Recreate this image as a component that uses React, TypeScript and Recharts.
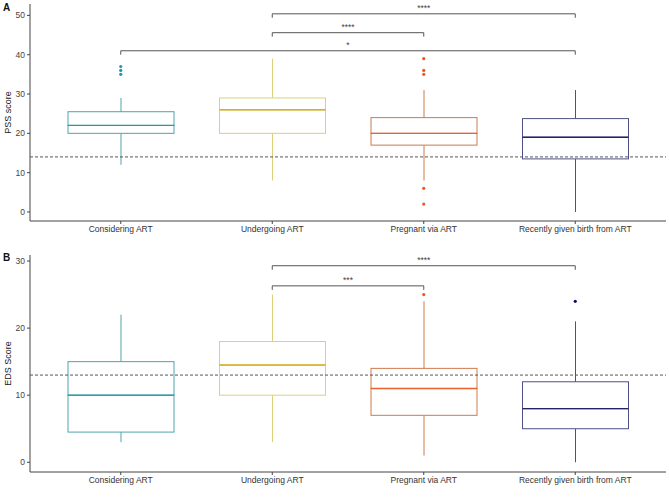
import React from 'react';
import { ComposedChart, Bar, Line, XAxis, YAxis, ReferenceLine } from 'recharts';

const groups = ['Considering ART', 'Undergoing ART', 'Pregnant via ART', 'Recently given birth from ART'];

// panel A - PSS
const pssMin = [12, 8, 8, 0];
const pssQ1 = [20, 20, 17, 13.5];
const pssMedian = [22, 26, 20, 19];
const pssQ3 = [25.5, 29, 24, 23.75];
const pssMax = [29, 39, 31, 31];
const pssOutliers = [[37, 36, 35], [], [39, 36, 35, 6, 2], []];
const pssCutoff = 14;
const pssBrackets = [
    { from: 'Undergoing ART', to: 'Recently given birth from ART', y: 50.4, label: '****' },
    { from: 'Undergoing ART', to: 'Pregnant via ART', y: 45.6, label: '****' },
    { from: 'Considering ART', to: 'Recently given birth from ART', y: 41, label: '*' },
];

// panel B - EDS
const edsMin = [3, 3, 1, 0];
const edsQ1 = [4.5, 10, 7, 5];
const edsMedian = [10, 14.5, 11, 8];
const edsQ3 = [15, 18, 14, 12];
const edsMax = [22, 25, 24, 21];
const edsOutliers = [[], [], [25], [24]];
const edsCutoff = 13;
const edsBrackets = [
    { from: 'Undergoing ART', to: 'Recently given birth from ART', y: 29.3, label: '****' },
    { from: 'Undergoing ART', to: 'Pregnant via ART', y: 26.3, label: '***' },
];

const BOX_COLORS = ['#4FA3AB', '#DDD07A', '#CC7A4E', '#4F4F85'];
const MEDIAN_COLORS = ['#1F9BA6', '#D8AE22', '#E8622A', '#23236B'];
const POINT_COLORS = ['#1A9AAE', '#D8AE22', '#E85A20', '#10105A'];
const FONT = "'Liberation Sans', Arial, sans-serif";
const AXIS = '#444';

function buildRows(min, q1, med, q3, max, outliers) {
    return groups.map((name, i) => {
        const row: any = {
            name,
            base: min[i],
            lowWhisker: q1[i] - min[i],
            lowerBox: med[i] - q1[i],
            upperBox: q3[i] - med[i],
            highWhisker: max[i] - q3[i],
        };
        for (let k = 0; k < 5; k++) row['o' + k] = outliers[i][k];
        return row;
    });
}

const pssRows = buildRows(pssMin, pssQ1, pssMedian, pssQ3, pssMax, pssOutliers);
const edsRows = buildRows(edsMin, edsQ1, edsMedian, edsQ3, edsMax, edsOutliers);

const Whisker = (props) => {
    const { x, y, width, height, index } = props;
    const top = Math.min(y, y + height);
    const h = Math.abs(height);
    const cx = x + width / 2;
    return <line x1={cx} x2={cx} y1={top} y2={top + h} stroke={BOX_COLORS[index]} strokeWidth={1} />;
};

const LowerBox = (props) => {
    const { x, y, width, height, index } = props;
    const top = Math.min(y, y + height);
    return <rect x={x} y={top} width={width} height={Math.abs(height)} fill="#fff" stroke={BOX_COLORS[index]} strokeWidth={1} />;
};

const UpperBox = (props) => {
    const { x, y, width, height, index } = props;
    const top = Math.min(y, y + height);
    const bottom = top + Math.abs(height);
    return (
        <g>
            <rect x={x} y={top} width={width} height={Math.abs(height)} fill="#fff" stroke={BOX_COLORS[index]} strokeWidth={1} />
            <line x1={x} x2={x + width} y1={bottom} y2={bottom} stroke={MEDIAN_COLORS[index]} strokeWidth={1.3} />
        </g>
    );
};

const OutlierDot = (props) => {
    const { cx, cy, value, index, dataKey } = props;
    if (value == null || cy == null) return <g key={`${dataKey}-${index}`} />;
    return <circle key={`${dataKey}-${index}`} cx={cx} cy={cy} r={1.6} fill={POINT_COLORS[index]} />;
};

const YLabel = ({ viewBox, text }: any) => {
    const x = (viewBox ? viewBox.x : 0) + 8;
    const y = viewBox ? viewBox.y + viewBox.height / 2 : 112;
    return (
        <text x={x} y={y} transform={`rotate(-90, ${x}, ${y})`} textAnchor="middle" dominantBaseline="central"
            fontSize={9} fill="#222" fontFamily={FONT}>{text}</text>
    );
};

const BoxPanel = ({ rows, domain, ticks, yLabel, cutoff, brackets, drop }) => (
    <ComposedChart width={669} height={251} data={rows} margin={{ top: 4, right: 3, bottom: 0, left: 0 }}>
        <XAxis dataKey="name" padding={{ left: 15, right: 15 }} tickSize={3} height={30}
            stroke={AXIS} tick={{ fontSize: 8.5, fill: '#333', fontFamily: FONT }} />
        <YAxis domain={domain} ticks={ticks} allowDataOverflow width={30} tickSize={3}
            stroke={AXIS} tick={{ fontSize: 8.5, fill: '#444', fontFamily: FONT }}
            label={<YLabel text={yLabel} />} />
        <ReferenceLine y={cutoff} stroke="#555" strokeDasharray="3 2" />
        <Bar dataKey="base" stackId="box" barSize={106} fill="none" shape={() => <g />} isAnimationActive={false} />
        <Bar dataKey="lowWhisker" stackId="box" barSize={106} shape={Whisker} isAnimationActive={false} />
        <Bar dataKey="lowerBox" stackId="box" barSize={106} shape={LowerBox} isAnimationActive={false} />
        <Bar dataKey="upperBox" stackId="box" barSize={106} shape={UpperBox} isAnimationActive={false} />
        <Bar dataKey="highWhisker" stackId="box" barSize={106} shape={Whisker} isAnimationActive={false} />
        {[0, 1, 2, 3, 4].map(k => (
            <Line key={k} dataKey={'o' + k} stroke="none" dot={OutlierDot} activeDot={false}
                legendType="none" isAnimationActive={false} />
        ))}
        {brackets.map((b, i) => (
            <ReferenceLine key={'h' + i} segment={[{ x: b.from, y: b.y }, { x: b.to, y: b.y }]}
                stroke="#555" strokeWidth={1}
                label={{ value: b.label, position: 'top', offset: 3, fontSize: 8.5, fill: '#444', fontFamily: FONT }} />
        ))}
        {brackets.map((b, i) => (
            <ReferenceLine key={'l' + i} segment={[{ x: b.from, y: b.y }, { x: b.from, y: b.y - drop }]} stroke="#555" />
        ))}
        {brackets.map((b, i) => (
            <ReferenceLine key={'r' + i} segment={[{ x: b.to, y: b.y }, { x: b.to, y: b.y - drop }]} stroke="#555" />
        ))}
    </ComposedChart>
);

const panelTag = { position: 'absolute', left: 3, fontFamily: FONT, fontWeight: 'bold', fontSize: 10, color: '#111' } as const;

export default function App() {
    return (
        <div style={{ position: 'absolute', left: 0, top: 0, width: 669, height: 502, background: '#fff' }}>
            <BoxPanel rows={pssRows} domain={[-2.3, 52.9]} ticks={[0, 10, 20, 30, 40, 50]} yLabel="PSS score"
                cutoff={pssCutoff} brackets={pssBrackets} drop={1.0} />
            <BoxPanel rows={edsRows} domain={[-1.45, 30.9]} ticks={[0, 10, 20, 30]} yLabel="EDS Score"
                cutoff={edsCutoff} brackets={edsBrackets} drop={0.6} />
            <div style={{ ...panelTag, top: 2 }}>A</div>
            <div style={{ ...panelTag, top: 252 }}>B</div>
        </div>
    );
}
